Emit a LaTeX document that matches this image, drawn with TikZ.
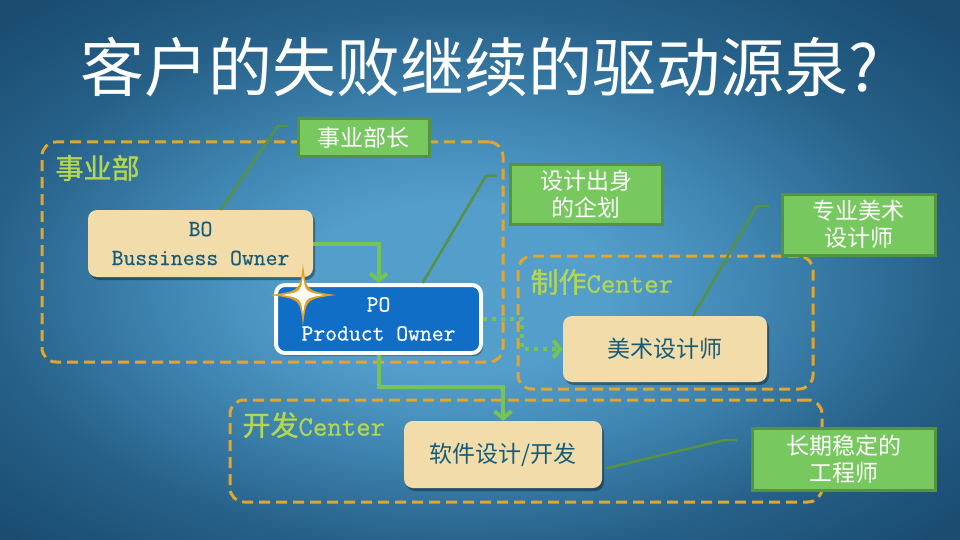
\documentclass[tikz,border=0pt]{standalone}
\usepackage{fontspec}
\setmainfont{Noto Sans CJK SC}
\setmonofont{Latin Modern Mono}[FakeBold=0.6]
\usetikzlibrary{arrows.meta,shadows}
\definecolor{bginner}{RGB}{84,158,204}
\definecolor{bgmid}{RGB}{62,132,176}
\definecolor{bgedge}{RGB}{38,96,136}
\definecolor{bgouter}{RGB}{26,76,112}
\definecolor{dashorange}{RGB}{226,166,44}
\definecolor{cardcream}{RGB}{241,220,170}
\definecolor{cardtext}{RGB}{22,92,122}
\definecolor{poblue}{RGB}{16,110,198}
\definecolor{notegreen}{RGB}{120,200,96}
\definecolor{noteedge}{RGB}{84,148,64}
\definecolor{leadgreen}{RGB}{86,146,66}
\definecolor{flowgreen}{RGB}{116,196,86}
\definecolor{labelgreen}{RGB}{180,214,80}
\definecolor{stargold}{RGB}{222,160,40}

\pgfdeclareradialshading{bgglow}{\pgfpoint{-1.5bp}{-2bp}}{%
  color(0bp)=(bginner); color(8bp)=(bginner); color(16bp)=(bgmid);
  color(25bp)=(bgedge); color(34bp)=(bgouter); color(50bp)=(bgouter)}

\tikzset{
  grpbox/.style={draw=dashorange, line width=3pt, dash pattern=on 11pt off 6pt,
    rounded corners=14pt, inner sep=0pt},
  grplabel/.style={text=labelgreen, anchor=west,
    font=\fontsize{28}{32}\selectfont\addfontfeatures{FakeBold=1.2}},
  cardbox/.style={fill=cardcream, rounded corners=9pt, text=cardtext, align=center,
    inner sep=0pt, font=\fontsize{23}{29}\selectfont,
    drop shadow={shadow xshift=2pt, shadow yshift=-3pt, opacity=0.35, fill=black}},
  notebox/.style={fill=notegreen, draw=noteedge, line width=3pt, text=white,
    align=center, inner sep=0pt, font=\fontsize{23}{27}\selectfont},
  leader/.style={draw=leadgreen, line width=2.5pt},
  flow/.style={draw=flowgreen, line width=4pt, -{Straight Barb[length=7pt,width=17pt]}}
}

\begin{document}
\begin{tikzpicture}[x=1pt,y=-1pt]
  \useasboundingbox (0,0) rectangle (960,540);
  % background
  \shade[shading=bgglow] (0,0) rectangle (960,540);

  % title
  \node[text=white, font=\fontsize{64}{72}\selectfont] (title) at (480,67) {客户的失败继续的驱动源泉?};

  % dashed groups
  \node[grpbox, minimum width=461pt, minimum height=220pt] (grpbiz) at (272.5,252) {};
  \node[grpbox, minimum width=295pt, minimum height=133pt] (grpart) at (665.5,322.5) {};
  \node[grpbox, minimum width=592pt, minimum height=102pt] (grpdev) at (526,451) {};
  \node[grplabel] (lblbiz) at (52,168) {事业部};
  \node[grplabel] (lblart) at (527,282) {制作{\ttfamily Center}};
  \node[grplabel] (lbldev) at (239,425) {开发{\ttfamily Center}};

  % cards
  \node[cardbox, minimum width=225pt, minimum height=67pt, font=\fontsize{23}{29}\selectfont\ttfamily] (bo) at (200.5,243.5) {BO\\Bussiness Owner};
  \node[cardbox, fill=poblue, draw=white, line width=4pt, text=white, minimum width=205pt,
    minimum height=68pt, font=\fontsize{23}{29}\selectfont\ttfamily] (po) at (378.5,319) {PO\\Product Owner};
  \node[cardbox, minimum width=204pt, minimum height=66pt] (art) at (665,349) {美术设计师};
  \node[cardbox, minimum width=198pt, minimum height=67pt] (dev) at (503,454.5) {软件设计/开发};

  % flows
  \draw[flow] (bo.east) -| (po.north);
  \draw[flow] (po.south) -- ++(0,32) -| (dev.north);
  \draw[flow, dash pattern=on 4pt off 5pt] (po.east) -- ++(39,0) |- (art.west);

  % leader lines
  \coordinate (endbiz) at (288,126);
  \coordinate (endpo) at (497,176);
  \coordinate (endart) at (769,206);
  \coordinate (enddev) at (737,440);
  \draw[leader] ([xshift=20pt]bo.north) -- (278,126) -- (endbiz);
  \draw[leader] ([xshift=44pt]po.north) -- (486,176) -- (endpo);
  \draw[leader] ([xshift=28pt]art.north) -- (757,206) -- (endart);
  \draw[leader] ([xshift=3pt,yshift=-14pt]dev.east) -- (725,440) -- (enddev);

  % notes
  \node[notebox, minimum width=131pt, minimum height=38pt] (notebiz) at (363.5,138) {事业部长};
  \node[notebox, minimum width=152pt, minimum height=59pt] (notepo) at (586,194.5) {设计出身\\的企划};
  \node[notebox, minimum width=153pt, minimum height=61pt] (noteart) at (858.5,224.5) {专业美术\\设计师};
  \node[notebox, minimum width=183pt, minimum height=62pt] (notedev) at (843.5,459) {长期稳定的\\工程师};

  % star
  \begin{scope}[shift={(303,295)}]
    \fill[stargold] (0,-31) .. controls (3,-4) .. (33,0) .. controls (3,4) .. (0,31)
      .. controls (-3,4) .. (-33,0) .. controls (-3,-4) .. (0,-31) -- cycle;
    \fill[white] (0,-20) .. controls (2,-3) .. (21,0) .. controls (2,3) .. (0,20)
      .. controls (-2,3) .. (-21,0) .. controls (-2,-3) .. (0,-20) -- cycle;
  \end{scope}
\end{tikzpicture}
\end{document}
